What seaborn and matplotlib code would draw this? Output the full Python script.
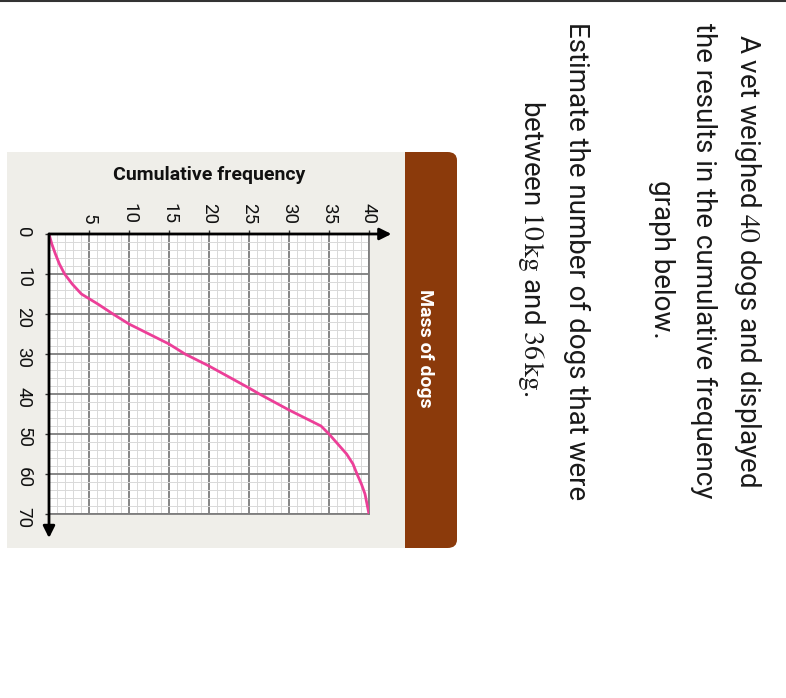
import matplotlib
matplotlib.use("Agg")
import matplotlib.pyplot as plt
import seaborn as sns
import pandas as pd
from matplotlib.patches import Rectangle, FancyBboxPatch
from matplotlib.lines import Line2D
from matplotlib.ticker import MultipleLocator

# ---- data ----
mass_kg = [0, 2.5, 5, 7.5, 10, 12.5, 15, 17.5, 20, 22.5, 27.5, 30, 33, 38.5, 40, 44,
           48, 50, 52.5, 55, 57.5, 60, 62.5, 65, 67.5, 70]
cum_freq = [0, 0.35, 0.8, 1.3, 1.95, 2.9, 4.05, 6.1, 8.0, 10.0, 15.0, 17.0, 20.0, 25.0, 26.3, 30.0,
            34.0, 35.0, 36.1, 37.2, 38.0, 38.5, 39.05, 39.5, 39.75, 40.0]
cf_ticks = [5, 10, 15, 20, 25, 30, 35, 40]
mass_ticks = [0, 10, 20, 30, 40, 50, 60, 70]
question_lines = [
    "A vet weighed $40$ dogs and displayed",
    "the results in the cumulative frequency",
    "graph below.",
    "Estimate the number of dogs that were",
    "between $10\\,\\mathrm{kg}$ and $36\\,\\mathrm{kg}$.",
]

sns.set_style("white")
plt.rcParams["mathtext.fontset"] = "stix"
CHART_FONT = ["Roboto", "DejaVu Sans"]

W, H = 786, 698
fig = plt.figure(figsize=(W / 100, H / 100), dpi=100)
fig.patch.set_facecolor("white")

def fx(px):
    return px / W

def fy(py):
    return 1 - py / H

# top rule
fig.add_artist(Line2D([0, 1], [fy(1), fy(1)], color="#333333", lw=1.5))

# brown header band (rounded right side)
band = FancyBboxPatch((fx(390), fy(548)), fx(457) - fx(390), fy(152) - fy(548),
                      boxstyle="round,pad=0,rounding_size=0.012",
                      transform=fig.transFigure, facecolor="#8b3a0b",
                      edgecolor="none", zorder=-3)
fig.add_artist(band)
panel = Rectangle((fx(7), fy(548)), fx(405) - fx(7), fy(152) - fy(548),
                  transform=fig.transFigure, facecolor="#efeee9",
                  edgecolor="none", zorder=-2)
fig.add_artist(panel)

# plot axes: cf horizontal (0 at x=49 -> 40 at x=369), mass vertical (0 at y=234 -> 70 at y=514)
ax = fig.add_axes([fx(49), fy(514), fx(369) - fx(49), fy(234) - fy(514)])
ax.set_facecolor("white")
df = pd.DataFrame({"cf": cum_freq, "mass": mass_kg})
sns.lineplot(data=df, x="cf", y="mass", sort=False, color="#ec3f98", lw=2.0, ax=ax, zorder=5)
ax.set_xlim(0, 40)
ax.set_ylim(70, 0)
ax.xaxis.set_major_locator(MultipleLocator(5))
ax.xaxis.set_minor_locator(MultipleLocator(1))
ax.yaxis.set_major_locator(MultipleLocator(10))
ax.yaxis.set_minor_locator(MultipleLocator(2))
ax.grid(which="minor", color="#d9d9d9", lw=0.7)
ax.grid(which="major", color="#7d7d7d", lw=1.3)
ax.set_axisbelow(True)
for s in ["right", "bottom"]:
    ax.spines[s].set_color("#7d7d7d")
    ax.spines[s].set_linewidth(1.3)
for s in ["top", "left"]:
    ax.spines[s].set_visible(False)
ax.xaxis.tick_top()
ax.set_xticks(cf_ticks)
ax.set_xticklabels([str(t) for t in cf_ticks])
ax.set_yticks(mass_ticks)
ax.set_yticklabels([str(t) for t in mass_ticks])
ax.tick_params(axis="x", which="major", top=True, bottom=False, length=3, width=1,
               color="#333333", pad=4, labelrotation=-90, labelsize=13.5)
ax.tick_params(axis="y", which="major", left=True, length=3, width=1,
               color="#333333", pad=9, labelrotation=-90, labelsize=13.5)
ax.tick_params(which="minor", length=0)
for lab in ax.get_xticklabels() + ax.get_yticklabels():
    lab.set_family(CHART_FONT)
    lab.set_color("#111111")
ax.set_xlabel("")
ax.set_ylabel("")

# axis lines with arrows
ax.annotate("", xy=(42.8, 0), xytext=(0, 0), xycoords="data",
            arrowprops=dict(arrowstyle="-|>,head_length=0.7,head_width=0.35",
                            color="black", lw=2, shrinkA=0, shrinkB=0),
            annotation_clip=False, zorder=6)
ax.annotate("", xy=(0, 76), xytext=(0, 0), xycoords="data",
            arrowprops=dict(arrowstyle="-|>,head_length=0.7,head_width=0.35",
                            color="black", lw=2, shrinkA=0, shrinkB=0),
            annotation_clip=False, zorder=6)

# axis titles
fig.text(fx(209), fy(175), "Cumulative frequency", ha="center", va="center",
         fontsize=14, fontweight="bold", family=CHART_FONT, color="#111111")
fig.text(fx(425), fy(348), "Mass of dogs", ha="center", va="center", rotation=-90,
         fontsize=14, fontweight="bold", family=CHART_FONT, color="white")

# question text (rotated)
centers = [(747, 260), (704, 261), (661, 259), (577, 261), (531, 248)]
for (cx, cy), line in zip(centers, question_lines):
    fig.text(fx(cx), fy(cy), line, ha="center", va="center", rotation=-90,
             fontsize=20, family=["Roboto", "DejaVu Sans"], color="#1a1a1a")

fig.savefig("out.png", dpi=100, facecolor="white")
